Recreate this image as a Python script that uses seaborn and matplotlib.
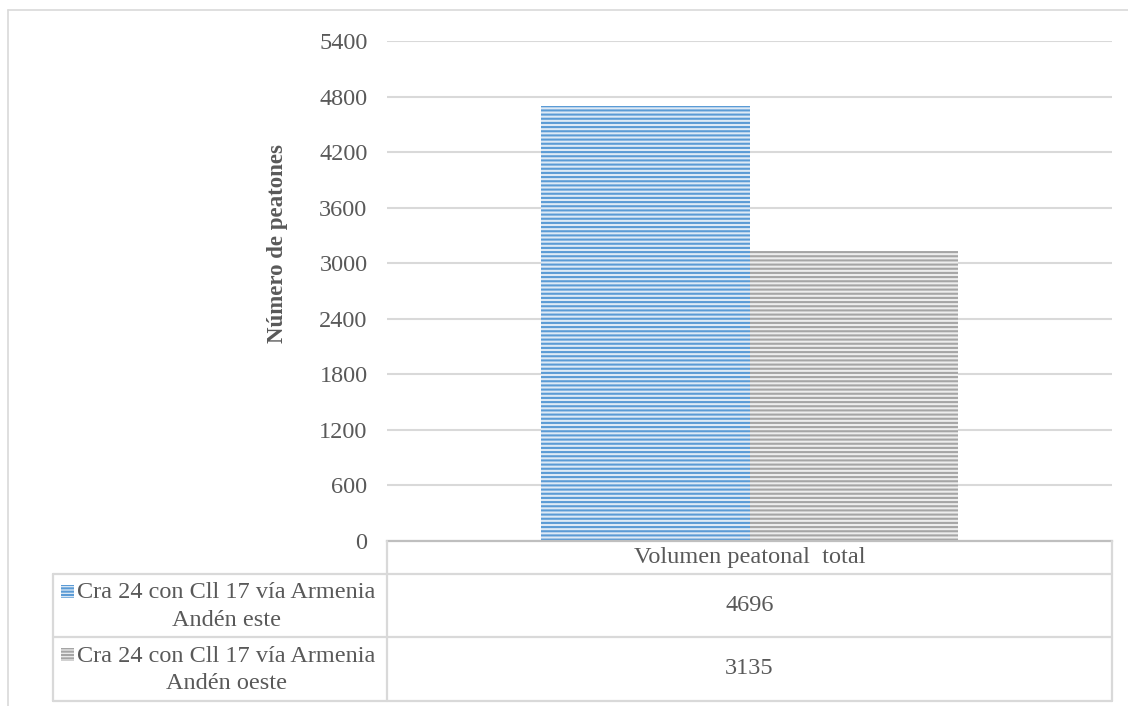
import numpy as np
import pandas as pd
import matplotlib
matplotlib.use("Agg")
import matplotlib.pyplot as plt
from matplotlib.patches import Rectangle
from matplotlib.lines import Line2D
import seaborn as sns

# Data
categories = ["Volumen peatonal  total"]
series = ["Cra 24 con Cll 17 vía Armenia\nAndén este",
          "Cra 24 con Cll 17 vía Armenia\nAndén oeste"]
values = [4696, 3135]
y_ticks = [0, 600, 1200, 1800, 2400, 3000, 3600, 4200, 4800, 5400]

stripe_colors = ["#5B9BD5", "#A5A5A5"]
fill_colors = ["#DEEAF6", "#EDEDED"]
text_color = "#595959"
grid_color = "#D9D9D9"
border_color = "#D9D9D9"
fs = 17.5

sns.set_theme(style="white")
plt.rcParams["font.family"] = ["Liberation Serif", "DejaVu Serif"]
plt.rcParams["hatch.linewidth"] = 1.5

W, H = 1128, 706
fig = plt.figure(figsize=(W / 100, H / 100), dpi=100)


def fx(px):
    return px / W


def fy(py):
    return 1 - py / H


# Plot area
ax_l, ax_r, ax_t, ax_b = 387, 1112, 41, 541
ax = fig.add_axes([fx(ax_l), fy(ax_b), fx(ax_r) - fx(ax_l), fy(ax_t) - fy(ax_b)])

df = pd.DataFrame({
    "categoria": [categories[0]] * len(series),
    "serie": series,
    "valor": values,
})
sns.barplot(data=df, x="categoria", y="valor", hue="serie", hue_order=series,
            palette=stripe_colors, width=0.574, gap=0, legend=False,
            saturation=1, ax=ax, linewidth=0)

for patch, sc, fc in zip(ax.patches, stripe_colors, fill_colors):
    patch.set_facecolor(fc)
    patch.set_edgecolor(sc)
    patch.set_linewidth(0)
    patch.set_hatch("----")

ax.set_xlim(-0.5, 0.5)
ax.set_ylim(0, 5400)
ax.set_yticks(y_ticks)
ax.set_yticklabels([str(t) for t in y_ticks], fontsize=fs, color=text_color)
ax.tick_params(axis="y", length=0, pad=14)
ax.set_xticks([])
ax.set_xlabel("")
ax.set_ylabel("")
ax.yaxis.grid(True, color=grid_color, linewidth=1.5)
ax.set_axisbelow(True)
for side in ["top", "right", "left"]:
    ax.spines[side].set_visible(False)
ax.spines["bottom"].set_color("#BFBFBF")
ax.spines["bottom"].set_linewidth(1.6)

fig.text(fx(277), fy(244), "Número de peatones", rotation=90, ha="center",
         va="center", fontsize=16.5, fontweight="bold", color=text_color)

# Outer chart border
fig.add_artist(Line2D([fx(8), fx(W)], [fy(10), fy(10)], color=border_color, lw=1.2))
fig.add_artist(Line2D([fx(8), fx(8)], [fy(10), fy(H)], color=border_color, lw=1.2))

# Data table below the plot
tbl_line = dict(color="#D9D9D9", lw=1.6)
row_tops = [574, 637]
row_bottoms = [637, 701]
leg_l = 53
fig.add_artist(Line2D([fx(ax_l), fx(ax_l)], [fy(ax_b), fy(701)], **tbl_line))
fig.add_artist(Line2D([fx(ax_r), fx(ax_r)], [fy(ax_b), fy(701)], **tbl_line))
fig.add_artist(Line2D([fx(leg_l), fx(leg_l)], [fy(574), fy(701)], **tbl_line))
for yy in [574, 637, 701]:
    fig.add_artist(Line2D([fx(leg_l), fx(ax_r)], [fy(yy), fy(yy)], **tbl_line))

x_mid = (ax_l + ax_r) / 2
fig.text(fx(x_mid), fy(558), categories[0], ha="center", va="center",
         fontsize=fs, color=text_color)

for i, (name, val) in enumerate(zip(series, values)):
    yc = (row_tops[i] + row_bottoms[i]) / 2
    fig.text(fx(x_mid), fy(yc), str(val), ha="center", va="center",
             fontsize=fs, color=text_color)
    fig.text(fx(226), fy(yc + 1), name, ha="center", va="center",
             multialignment="center", fontsize=fs, color=text_color,
             linespacing=1.4)
    sq = 13
    fig.add_artist(Rectangle((fx(61), fy(row_tops[i] + 11 + sq)), fx(sq), sq / H,
                             facecolor=fill_colors[i], edgecolor=stripe_colors[i],
                             hatch="-----", linewidth=0))

fig.savefig("out.png", dpi=100)
